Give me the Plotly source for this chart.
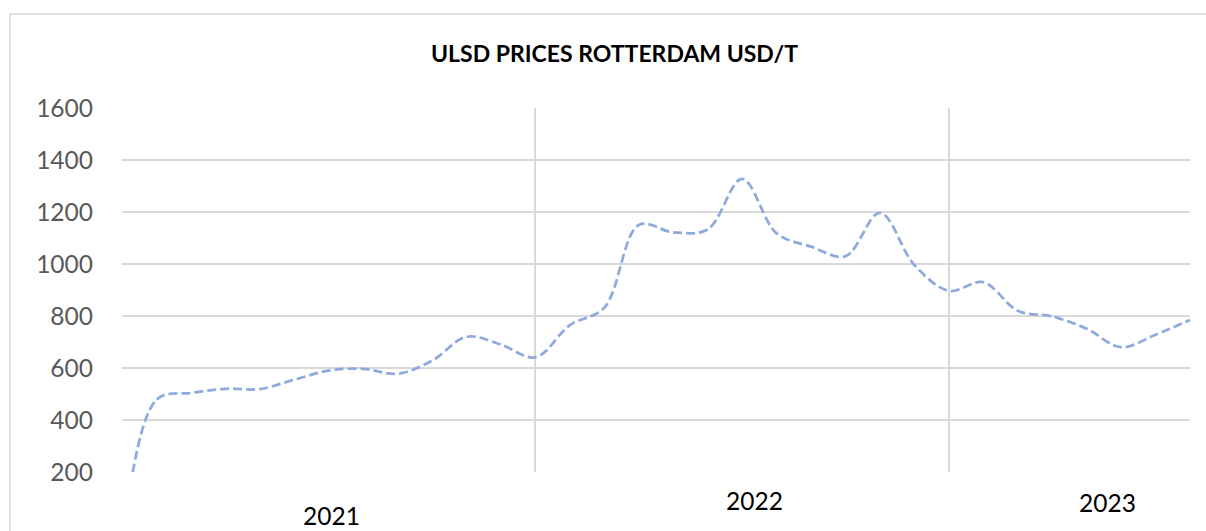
import plotly.graph_objects as go

# Data (the first value lies below the axis floor)
prices = [-100, 478, 504, 520, 519, 555, 590, 597, 578, 628, 720, 690,
          641, 765, 832, 1150, 1122, 1133, 1327, 1118, 1067, 1030, 1197, 996,
          897, 930, 820, 798, 751, 680, 728, 785]
year_labels = ["2021", "2022", "2023"]
year_label_pos = [6.07, 18.37, 28.6]
year_boundaries = [0, 12, 24]
y_ticks = [200, 400, 600, 800, 1000, 1200, 1400, 1600]
title_text = "ULSD PRICES ROTTERDAM USD/T"

x_idx = list(range(len(prices)))

W, H = 1206, 531
L, R, T, B = 122, 16, 108, 59
plot_h = H - T - B
plot_w = W - L - R

def py(p):  # pixel y -> paper y
    return (H - B - p) / plot_h

def px(p):  # pixel x -> paper x
    return (p - L) / plot_w

FONT = "Lato"
GRID = "#d9d9d9"

fig = go.Figure()
fig.add_trace(go.Scatter(
    x=x_idx, y=prices, mode="lines",
    line=dict(color="#8faadc", width=2.75, dash="9px,4px", shape="spline", smoothing=1.0),
    hoverinfo="skip", showlegend=False,
))

annotations = [dict(text=f"<b>{title_text}</b>", xref="paper", yref="paper",
                    x=px(614), y=py(52.5), xanchor="center", yanchor="middle",
                    showarrow=False, font=dict(family=FONT, size=23, color="#000000"))]
label_y = [515.5, 500, 502.5]
for lab, xp, yp in zip(year_labels, year_label_pos, label_y):
    annotations.append(dict(text=lab, xref="x", yref="paper", x=xp, y=py(yp),
                            xanchor="center", yanchor="middle", showarrow=False,
                            font=dict(family=FONT, size=24.5, color="#000000")))

fig.update_layout(
    width=W, height=H,
    margin=dict(l=L, r=R, t=T, b=B, pad=0),
    paper_bgcolor="white", plot_bgcolor="white",
    showlegend=False,
    annotations=annotations,
    shapes=[dict(type="rect", xref="paper", yref="paper",
                 x0=px(10), x1=px(1215), y0=py(545), y1=py(14),
                 line=dict(color=GRID, width=1.5), fillcolor="rgba(0,0,0,0)", layer="below")],
    xaxis=dict(range=[0, len(prices) - 1], tickvals=year_boundaries, showticklabels=False,
               showgrid=True, gridcolor=GRID, gridwidth=1.5, zeroline=False,
               showline=False, ticks=""),
    yaxis=dict(range=[200, 1600], tickvals=y_ticks, showgrid=True, gridcolor=GRID,
               gridwidth=1.5, zeroline=False, showline=False, ticks="",
               ticklabelstandoff=28,
               tickfont=dict(family=FONT, size=24.5, color="#595959")),
)

fig.write_html("out.html", config={"displayModeBar": False},
               post_script="document.body.style.margin='0';document.body.style.overflow='hidden';")
